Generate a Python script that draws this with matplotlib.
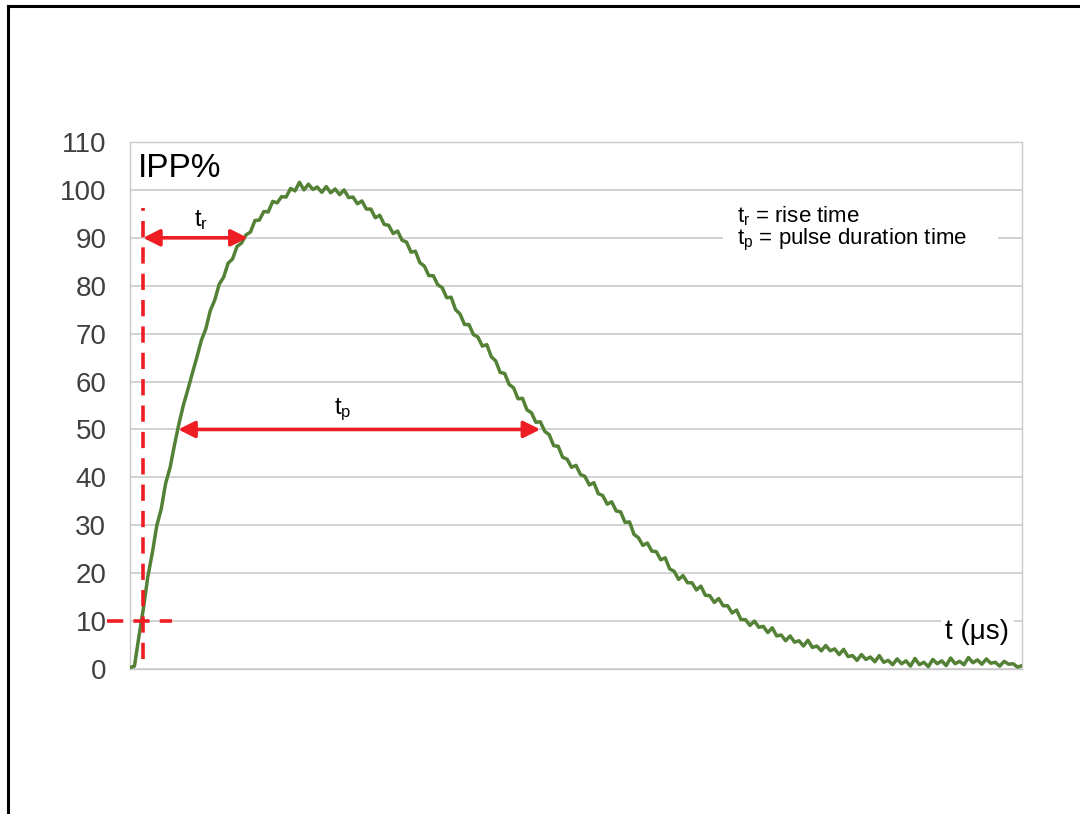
import numpy as np
import matplotlib
matplotlib.use("Agg")
import matplotlib.pyplot as plt
from matplotlib.lines import Line2D
from matplotlib.patches import Rectangle

plt.rcParams['font.family'] = ['Liberation Sans', 'DejaVu Sans']
plt.rcParams['mathtext.fontset'] = 'custom'
plt.rcParams['mathtext.rm'] = 'Liberation Sans'
plt.rcParams['mathtext.it'] = 'Liberation Sans'

# ===== data: surge pulse, IPP% sampled every 0.25 us =====
dt = 0.25
ipp = [
    0.3, 0.6, 6.8, 12.6, 19.3, 24.2, 29.9, 33.4,
    38.8, 42.1, 46.9, 51.3, 55.2, 58.4, 61.8, 65.1,
    68.6, 71.0, 74.8, 77.0, 80.3, 81.8, 84.7, 85.6,
    88.2, 88.9, 90.6, 91.2, 93.6, 93.7, 95.5, 95.4,
    97.6, 97.3, 98.6, 98.5, 100.3, 99.8, 101.6, 100.0,
    101.2, 100.1, 100.6, 99.5, 100.7, 99.4, 100.2, 99.0,
    100.0, 98.4, 98.5, 97.1, 97.7, 96.0, 96.0, 94.2,
    94.7, 92.8, 92.6, 90.9, 91.4, 89.5, 89.1, 87.0,
    87.2, 84.8, 84.1, 82.1, 82.1, 80.2, 79.6, 77.5,
    77.6, 75.0, 74.1, 71.9, 71.9, 69.8, 69.3, 67.4,
    67.7, 65.2, 64.3, 61.9, 61.7, 59.4, 58.7, 56.4,
    56.5, 54.1, 53.5, 51.5, 51.6, 49.6, 48.9, 46.6,
    46.5, 44.2, 43.8, 42.1, 42.5, 40.6, 40.2, 38.4,
    38.9, 36.6, 36.2, 34.4, 34.9, 33.0, 32.8, 30.6,
    30.7, 28.1, 27.4, 25.8, 26.3, 24.6, 24.5, 22.8,
    23.2, 20.9, 20.4, 18.7, 19.5, 18.0, 18.0, 16.5,
    17.3, 15.4, 15.3, 13.9, 14.7, 13.2, 13.2, 11.7,
    12.3, 10.3, 10.3, 9.1, 10.0, 8.7, 8.9, 7.6,
    8.6, 6.9, 7.1, 5.9, 6.9, 5.6, 5.9, 4.8,
    6.0, 4.5, 4.8, 3.8, 4.9, 3.8, 4.2, 3.0,
    4.1, 2.6, 2.8, 1.8, 3.0, 2.0, 2.5, 1.5,
    2.8, 1.4, 1.8, 0.9, 2.1, 1.1, 1.7, 0.6,
    2.2, 0.9, 1.4, 0.5, 2.0, 1.1, 1.7, 0.7,
    2.3, 1.1, 1.6, 0.9, 2.4, 1.3, 1.9, 1.0,
    2.1, 1.2, 1.4, 0.6, 1.6, 1.0, 1.1, 0.4,
    0.7,
]
t_us = np.arange(len(ipp)) * dt

yticks = list(range(0, 111, 10))
t10 = 0.73                    # 10% crossing
t90 = 6.6                     # 90% crossing
tp_start, tp_end = 2.7, 23.0  # 50% crossings

RED = '#ee1d23'
GREEN = '#538135'
GRID = '#c9c9c9'

fig = plt.figure(figsize=(10.8, 8.14), dpi=100)
ax = fig.add_axes([130/1080, 1-669/814, 892/1080, 527/814])

ax.plot(t_us, ipp, color=GREEN, lw=2.5, zorder=3)

ax.set_xlim(0, 50); ax.set_ylim(0, 110)
ax.set_xticks([])
ax.set_yticks(yticks)
ax.tick_params(axis='y', length=0, pad=17, labelsize=20, labelcolor='#404040')
ax.yaxis.grid(True, color=GRID, lw=1.15)
ax.set_axisbelow(True)
for s in ['left', 'right', 'top', 'bottom']:
    ax.spines[s].set_color(GRID); ax.spines[s].set_linewidth(1.0)

# dashed markers
ax.plot([t10, t10], [2.1, 96.2], color=RED, lw=2.6, dashes=(4.5, 2.8), zorder=4)
ax.plot([-1.29, 2.35], [10, 10], color=RED, lw=2.6, dashes=(4.5, 2.8), zorder=4, clip_on=False)

# arrows
aprops = dict(arrowstyle='<|-|>,head_length=10,head_width=5', color=RED, lw=2.6,
              shrinkA=0, shrinkB=0, mutation_scale=1)
ax.annotate('', xy=(t90, 90), xytext=(t10, 90), arrowprops=aprops, zorder=5)
ax.annotate('', xy=(tp_end, 50), xytext=(tp_start, 50), arrowprops=aprops, zorder=5)
ax.text(4.0, 93.8, r'$\mathrm{t_r}$', fontsize=17, ha='center', va='center')
ax.text(11.9, 54.0, r'$\mathrm{t_p}$', fontsize=17, ha='center', va='center')

ax.text(0.45, 104.4, 'IPP%', fontsize=24, ha='left', va='center')
ax.text(47.5, 7.7, 't (μs)', fontsize=20, ha='center', va='center',
        bbox=dict(boxstyle='square,pad=0.15', fc='white', ec='none'), zorder=4)

# definitions box
ax.add_patch(Rectangle((33.24, 85.0), 15.4, 12.9, fc='white', ec='none', zorder=2))
ax.text(34.0, 94.6, r'$\mathrm{t_r}$ = rise time', fontsize=16, ha='left', va='center', zorder=4)
ax.text(34.0, 89.6, r'$\mathrm{t_p}$ = pulse duration time', fontsize=16, ha='left', va='center', zorder=4)

# frame around the figure
fig.add_artist(Line2D([8/1080, 1], [1-6/814, 1-6/814], color='black', lw=2.2))
fig.add_artist(Line2D([8/1080, 8/1080], [0, 1-6/814], color='black', lw=2.2))

fig.savefig('out.png', dpi=100)
